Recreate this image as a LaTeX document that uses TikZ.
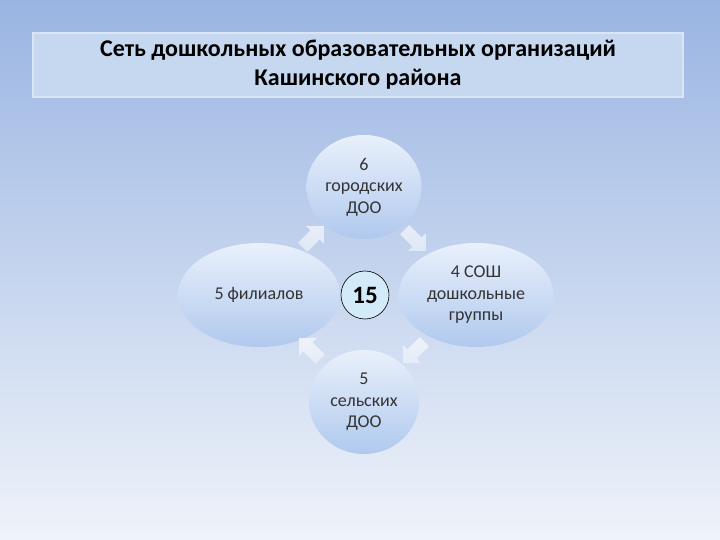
\documentclass[tikz,border=0pt]{standalone}
\usepackage{fontspec}
\setmainfont{Carlito}
\usetikzlibrary{shapes.geometric,shapes.arrows}
\definecolor{bgtop}{HTML}{9AB5E2}
\definecolor{bgbot}{HTML}{EFF3FA}
\definecolor{titlefill}{HTML}{C6D8F0}
\definecolor{titleedge}{HTML}{D9E5F5}
\definecolor{elltop}{HTML}{E9F0FB}
\definecolor{ellbot}{HTML}{B0C9EE}
\definecolor{ctrfill}{HTML}{D3EAF9}
\definecolor{txt}{HTML}{333333}
\tikzset{
  bubble/.style={ellipse, top color=elltop, bottom color=ellbot, draw=none,
     text=txt, font=\fontsize{18}{21.5}\selectfont, align=center, inner sep=0pt},
  cyclearrow/.style={single arrow, top color=white, bottom color=white!80!ellbot,
     fill opacity=0.65, draw=none,
     minimum width=25pt, single arrow head extend=5pt, minimum height=30pt, inner sep=5pt},
}
\begin{document}
\begin{tikzpicture}[x=1pt,y=1pt]
\useasboundingbox (0,0) rectangle (720,-540);
\shade[top color=bgtop, bottom color=bgbot] (0,0) rectangle (720,-540);
% title
\node[draw=titleedge, line width=2pt, fill=titlefill, minimum width=650pt, minimum height=64pt,
      align=center, font=\fontsize{24}{29}\selectfont\bfseries, text=black] (title) at (358,-65)
  {Сеть дошкольных образовательных организаций\\Кашинского района};
% bubbles
\node[bubble, minimum width=115pt, minimum height=104pt] (top) at (364,-187) {6\\городских\\ДОО};
\node[bubble, minimum width=162pt, minimum height=104pt] (left) at (259,-295) {5 филиалов};
\node[bubble, minimum width=155pt, minimum height=104pt] (right) at (476,-295) {4 СОШ\\дошкольные\\группы};
\node[bubble, minimum width=110pt, minimum height=104pt] (bottom) at (364,-402) {5\\сельских\\ДОО};
% centre
\node[circle, draw=black, line width=0.6pt, fill=ctrfill, minimum size=48pt, inner sep=0pt,
      font=\fontsize{25}{28}\selectfont\bfseries, text=black] (c) at (365,-295) {15};
% cycle arrows
\node[cyclearrow, rotate=45] (a1) at (311,-239) {};
\node[cyclearrow, rotate=-45] (a2) at (413,-238) {};
\node[cyclearrow, rotate=-135] (a3) at (416,-350) {};
\node[cyclearrow, rotate=135] (a4) at (312,-351) {};
\end{tikzpicture}
\end{document}
